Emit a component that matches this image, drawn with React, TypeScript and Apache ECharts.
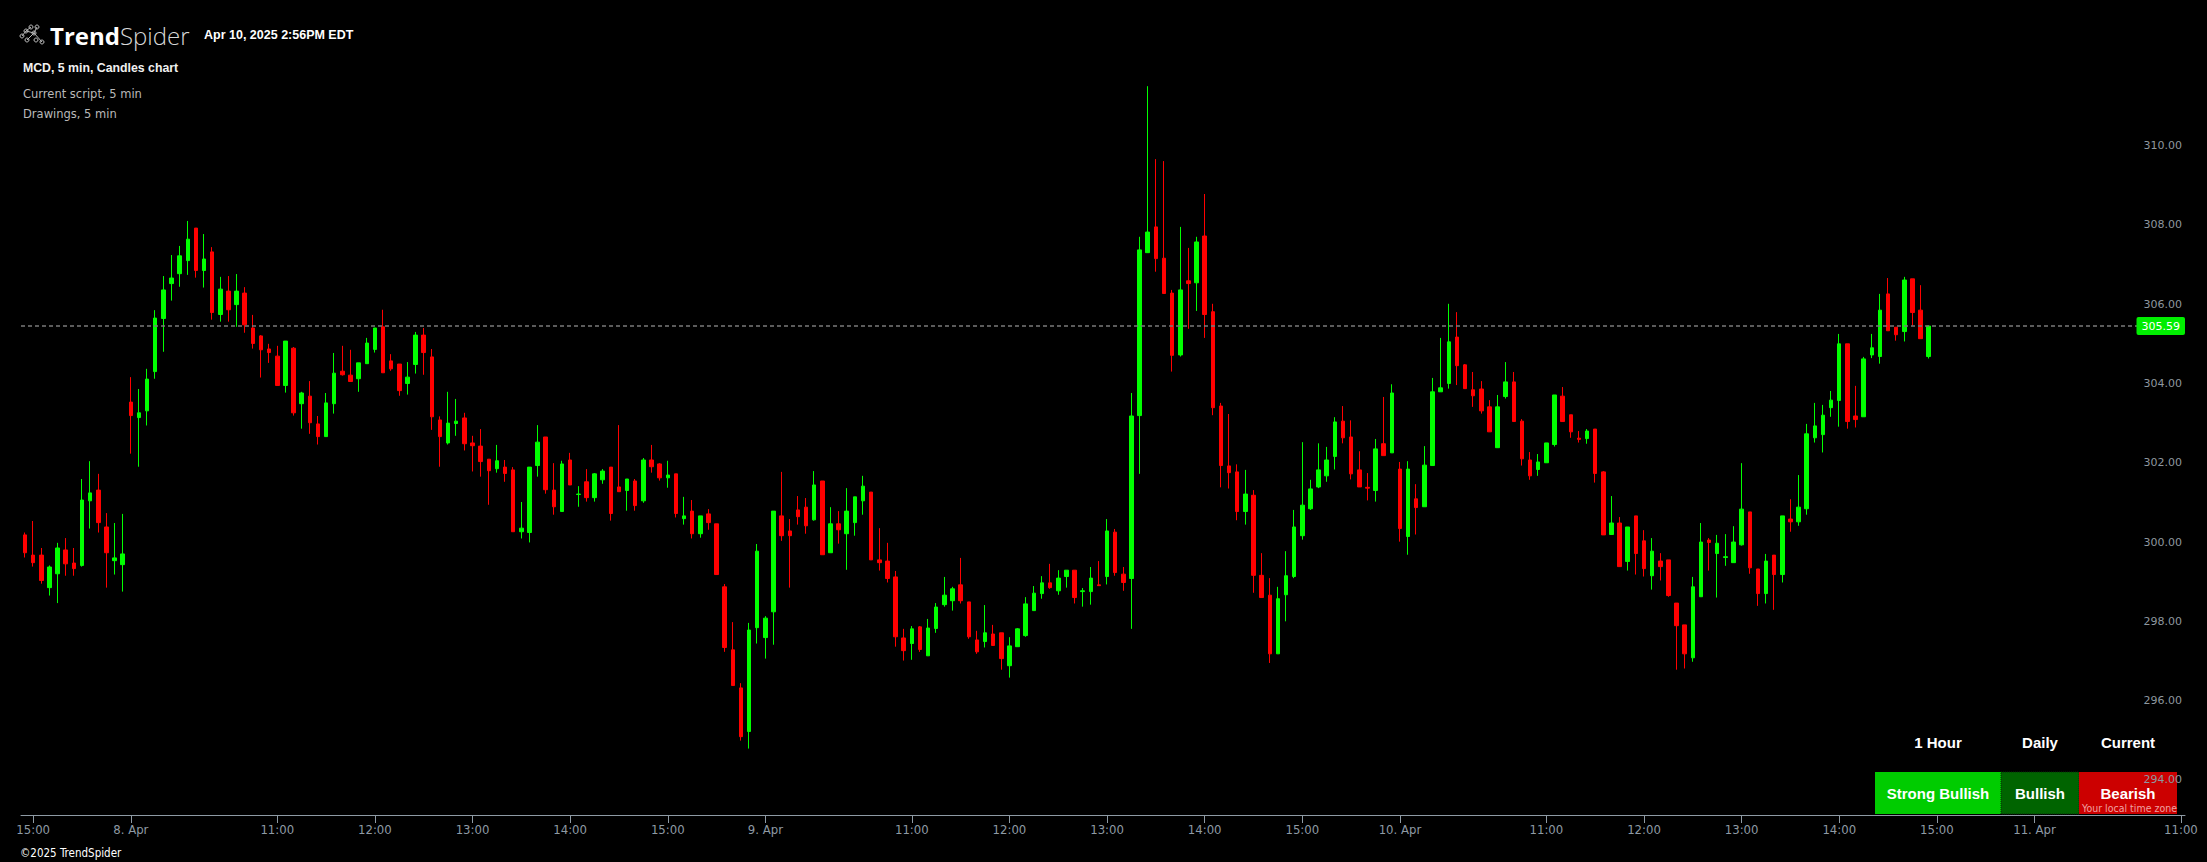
import React, { useEffect, useRef } from "react";
import * as echarts from "echarts";

// ---- Data (MCD, 5 min candles, 7 Apr 14:55 -> 10 Apr 14:55) ----
const opens = [
  300.32, 299.81, 299.81, 298.99, 299.34, 299.94, 299.61, 299.55, 301.18, 301.45, 300.52, 299.67, 299.57,
  303.67, 303.28, 303.45, 304.44, 305.78, 306.66, 306.91, 307.24, 308.06, 306.99, 307.46, 305.88, 306.47, 306.13, 306.42, 305.54, 305.34, 305.01, 304.83, 304.09, 305.03, 303.63, 303.82, 303.12, 302.8, 303.63, 304.45,
  304.35, 304.26, 304.64, 305.0, 305.57, 304.71, 304.63, 304.14, 304.62, 305.36, 304.81, 303.22, 302.64, 303.13, 303.27, 302.64, 302.56, 302.23, 301.99, 302.03, 301.96, 300.4,
  300.38, 302.07, 302.79, 301.45, 300.91, 302.21, 301.34, 301.66, 301.26, 301.71, 302.03, 301.53, 301.44, 301.68, 301.18, 302.21, 302.11, 301.76, 301.86, 300.73, 300.92, 300.35, 300.85, 300.6, 299.01, 297.42, 296.46, 295.36, 297.98,
  297.73, 298.38, 300.8, 300.42, 300.95, 301.02, 300.7, 301.68, 299.87, 300.6, 300.35, 300.63, 301.18, 301.4, 299.69, 299.66, 299.26, 297.72, 297.58, 298.0, 297.27, 297.96, 298.56, 298.66, 299.06, 298.63, 297.67, 297.63, 297.82, 297.85, 297.02, 297.5, 297.78, 298.41, 298.84, 299.11, 298.91, 299.27, 299.43, 298.89, 298.89, 299.06, 299.27, 300.39, 299.33,
  299.22, 303.33, 307.44, 308.09, 307.3, 306.42, 304.86, 306.73, 306.68, 307.86, 305.95, 303.57, 302.06, 301.91, 300.91, 301.32, 299.3, 298.8, 297.32, 298.81, 299.27, 300.3, 300.98, 301.53, 301.81, 302.3, 303.19, 302.79, 301.96, 301.52, 301.44, 302.62, 302.39,
  301.98, 300.28, 301.23, 301.03, 302.07, 303.93, 304.14, 305.31, 304.61, 303.98, 304.0, 303.55, 302.52, 303.81, 304.18, 303.19, 302.21, 301.97, 302.14, 302.6, 303.82, 303.35, 302.76, 302.75, 302.99, 301.91, 300.33, 300.62, 299.65, 300.8, 300.17, 299.29, 299.66, 299.69, 298.6, 298.05, 297.22, 298.76, 300.19, 299.85,
  299.75, 299.62, 300.07, 300.9, 299.46, 298.84, 299.81, 299.32, 300.72, 300.65, 300.98, 302.77, 302.85, 303.53, 303.71, 305.14, 303.32, 303.3, 304.86, 304.82, 306.4, 305.56, 305.45, 306.78, 305.99, 304.82,
];
const closes = [
  299.87, 299.62, 299.17, 299.51, 299.99, 299.59, 299.47, 301.2, 301.38, 300.63, 299.87, 299.74, 299.84,
  303.33, 303.4, 304.25, 305.79, 306.5, 306.8, 307.36, 307.78, 306.99, 307.28, 305.93, 306.52, 306.0, 306.47, 305.62, 305.15, 304.99, 304.92, 304.09, 305.21, 303.4, 303.9, 303.15, 302.8, 303.65, 304.4, 304.36,
  304.19, 304.66, 305.16, 305.54, 304.41, 304.51, 303.96, 304.3, 305.36, 304.92, 303.3, 302.8, 303.14, 303.19, 302.62, 302.57, 302.17, 301.94, 302.19, 301.87, 300.4, 300.49,
  302.03, 302.66, 301.46, 301.03, 302.11, 301.58, 301.35, 301.26, 301.86, 301.93, 300.86, 301.41, 301.73, 301.06, 302.21, 302.04, 301.76, 301.83, 300.86, 300.8, 300.35, 300.8, 300.63, 299.32, 297.48, 296.52, 295.23, 297.92, 299.91,
  298.22, 300.92, 300.3, 300.3, 300.78, 300.55, 301.58, 299.82, 300.6, 300.45, 300.92, 301.28, 301.55, 299.69, 299.62, 299.22, 297.75, 297.4, 297.95, 297.43, 297.97, 298.5, 298.8, 298.96, 298.66, 297.75, 297.37, 297.85, 297.53, 297.2, 297.52, 297.95, 298.58, 298.85, 299.11, 298.99, 299.23, 299.43, 298.74, 298.91, 299.23, 299.04, 300.42, 299.37, 299.12,
  303.32, 307.51, 307.96, 307.29, 306.41, 304.85, 306.5, 306.66, 307.71, 305.88, 303.53, 302.07, 301.89, 300.91, 301.35, 299.3, 298.74, 297.32, 298.71, 299.29, 300.52, 301.07, 301.48, 301.96, 302.21, 303.17, 302.77, 301.86, 301.53, 301.5, 302.49, 302.32, 303.9,
  300.48, 301.98, 301.01, 302.08, 303.93, 304.03, 305.19, 304.59, 304.01, 303.83, 303.45, 302.92, 303.55, 304.18, 303.18, 302.24, 301.81, 302.16, 302.64, 303.85, 303.18, 302.92, 302.73, 302.94, 301.87, 300.32, 300.62, 299.52, 300.52, 299.85, 299.47, 299.91, 299.52, 298.79, 298.03, 297.32, 299.01, 300.14, 300.13, 300.11,
  299.77, 300.14, 300.97, 299.49, 298.84, 299.66, 299.32, 300.8, 300.65, 301.02, 302.87, 303.07, 303.34, 303.72, 305.14, 303.18, 303.23, 304.76, 305.04, 305.99, 305.47, 305.37, 306.75, 305.93, 305.27, 305.59,
];
const lows = [
  299.75, 299.52, 299.09, 298.79, 298.6, 299.29, 299.29, 299.52, 300.48, 300.38, 298.99, 299.32, 298.89,
  302.37, 302.04, 303.08, 304.26, 304.94, 306.23, 306.58, 306.88, 306.81, 306.56, 305.75, 305.7, 305.7, 305.57, 305.42, 305.02, 304.29, 304.66, 304.09, 303.91, 303.33, 303.0, 302.87, 302.6, 302.8, 303.38, 304.34,
  304.19, 303.93, 304.64, 304.92, 304.41, 304.46, 303.83, 303.86, 304.39, 304.36, 302.97, 302.04, 302.6, 302.82, 302.45, 301.92, 301.79, 301.08, 301.89, 301.66, 300.4, 300.23,
  300.13, 301.79, 301.36, 300.83, 300.91, 301.58, 301.03, 301.16, 301.16, 301.61, 300.68, 301.41, 300.93, 300.93, 301.13, 301.89, 301.69, 301.51, 300.76, 300.58, 300.23, 300.25, 300.45, 299.32, 297.37, 296.52, 295.13, 294.93, 297.58,
  297.2, 297.55, 300.17, 298.99, 300.58, 300.35, 300.68, 299.82, 299.87, 300.1, 299.44, 300.3, 300.83, 299.69, 299.42, 299.12, 297.5, 297.15, 297.17, 297.37, 297.27, 297.85, 298.51, 298.41, 298.59, 297.7, 297.32, 297.48, 297.53, 296.92, 296.72, 297.5, 297.75, 298.41, 298.71, 298.96, 298.81, 298.99, 298.59, 298.51, 298.56, 299.04, 299.07, 299.29, 298.91,
  297.95, 301.86, 307.44, 306.96, 306.41, 304.44, 304.82, 305.52, 305.97, 305.29, 303.34, 301.52, 301.49, 300.69, 300.58, 298.86, 298.74, 297.09, 297.32, 298.14, 299.23, 300.2, 300.95, 301.5, 301.66, 301.97, 302.63, 301.72, 301.53, 301.19, 301.16, 302.32, 302.39,
  300.15, 299.82, 300.33, 301.03, 302.07, 303.93, 304.01, 304.1, 304.01, 303.55, 303.38, 302.92, 302.52, 303.76, 303.18, 302.07, 301.71, 301.81, 302.14, 302.55, 303.18, 302.77, 302.65, 302.62, 301.64, 300.32, 300.33, 299.52, 299.42, 299.32, 299.27, 298.94, 299.17, 298.76, 296.92, 296.95, 297.12, 298.76, 299.42, 298.74,
  299.54, 299.62, 300.05, 299.34, 298.53, 298.59, 298.43, 299.12, 300.4, 300.55, 300.83, 302.65, 302.4, 303.3, 303.05, 303.0, 303.03, 303.3, 304.78, 304.64, 305.47, 305.22, 305.2, 305.6, 305.27, 304.77,
];
const highs = [
  300.38, 300.67, 299.99, 299.55, 300.12, 300.24, 299.99, 301.73, 302.18, 301.86, 300.87, 300.62, 300.85,
  304.3, 304.0, 304.51, 305.99, 306.85, 307.38, 307.61, 308.24, 308.06, 307.91, 307.58, 306.83, 306.85, 306.9, 306.57, 305.87, 305.36, 305.14, 305.09, 305.21, 305.06, 303.93, 304.2, 303.32, 303.9, 304.91, 305.09,
  304.99, 304.66, 305.29, 305.54, 306.0, 304.88, 304.63, 304.68, 305.44, 305.54, 305.01, 303.31, 303.93, 303.75, 303.4, 302.82, 302.99, 302.23, 302.59, 302.21, 302.03, 301.15,
  302.03, 303.09, 302.79, 302.13, 302.19, 302.39, 301.55, 301.98, 301.88, 301.98, 302.03, 303.09, 301.73, 301.73, 302.26, 302.59, 302.13, 302.19, 301.86, 301.28, 301.2, 300.8, 300.97, 300.6, 299.08, 298.12, 296.58, 298.1, 300.09,
  298.27, 300.92, 301.91, 300.72, 301.3, 301.25, 301.93, 301.68, 301.02, 300.92, 301.5, 301.28, 301.81, 301.4, 300.49, 300.12, 299.41, 297.95, 298.02, 298.02, 298.2, 298.6, 299.26, 299.01, 299.74, 298.63, 297.9, 298.55, 298.05, 297.85, 297.74, 297.97, 298.75, 299.03, 299.28, 299.59, 299.43, 299.43, 299.43, 298.98, 299.51, 299.66, 300.72, 300.47, 299.51,
  303.9, 307.84, 311.64, 309.8, 309.75, 306.5, 308.09, 307.56, 307.84, 308.92, 306.15, 303.65, 303.37, 302.1, 301.96, 301.45, 299.86, 299.23, 299.01, 299.91, 300.95, 302.66, 301.71, 302.63, 302.54, 303.29, 303.57, 303.21, 302.43, 301.88, 302.74, 303.8, 304.12,
  302.16, 302.18, 301.6, 302.56, 304.28, 305.29, 306.15, 305.94, 304.63, 304.43, 304.2, 303.72, 303.85, 304.68, 304.43, 303.24, 302.41, 302.36, 302.64, 303.85, 304.05, 303.35, 302.94, 302.99, 302.99, 301.93, 301.3, 300.77, 300.52, 300.8, 300.44, 300.24, 299.86, 299.69, 298.6, 298.05, 299.26, 300.62, 300.24, 300.32,
  300.34, 300.54, 302.13, 300.9, 299.46, 299.84, 299.81, 300.8, 301.22, 301.83, 303.12, 303.65, 303.6, 303.95, 305.39, 305.14, 304.08, 304.81, 305.39, 306.4, 306.8, 305.56, 306.83, 306.78, 306.62, 305.59,
];

// trading sessions shown on the time axis (5-minute slots)
const sessionDays = ["7. Apr", "8. Apr", "9. Apr", "10. Apr", "11. Apr"];
const sessionStarts = ["14:55", "09:30", "09:30", "09:30", "09:30"];
const sessionEnds = ["15:55", "15:55", "15:55", "15:55", "11:00"];
const hourTickLabels = ["11:00", "12:00", "13:00", "14:00", "15:00"];

const yTickValues = [294, 296, 298, 300, 302, 304, 306, 308, 310];
const lastPrice = 305.59;

const signalHeaders = ["1 Hour", "Daily", "Current"];
const signalValues = ["Strong Bullish", "Bullish", "Bearish"];
const signalColors = ["#00cc00", "#006400", "#cc0000"];

const headerTitle = "MCD, 5 min, Candles chart";
const headerLines = ["Current script, 5 min", "Drawings, 5 min"];
const headerDate = "Apr 10, 2025 2:56PM EDT";

// ---- helpers ----
const pad = (n: number) => (n < 10 ? "0" + n : "" + n);
const toMin = (s: string) => {
  const [h, m] = s.split(":").map(Number);
  return h * 60 + m;
};

const categories: string[] = [];
const tickText: Record<number, string> = {};
sessionDays.forEach((day, d) => {
  for (let t = toMin(sessionStarts[d]); t <= toMin(sessionEnds[d]); t += 5) {
    const hhmm = pad(Math.floor(t / 60)) + ":" + pad(t % 60);
    const idx = categories.length;
    categories.push(day + " " + hhmm);
    if (hhmm === "09:30") tickText[idx] = day;
    else if (hourTickLabels.includes(hhmm)) tickText[idx] = hhmm;
  }
});

const candleData = opens.map((o, i) => [o, closes[i], lows[i], highs[i]]);

const NARROW = "'Liberation Sans Narrow', 'DejaVu Sans Condensed', 'Roboto Condensed', 'Liberation Sans', sans-serif";
const SANS = "'Liberation Sans', Arial, sans-serif";
const VERD = "'DejaVu Sans', Verdana, sans-serif";

export default function App() {
  const ref = useRef<HTMLDivElement>(null);

  useEffect(() => {
    document.body.style.margin = "0";
    document.body.style.background = "#000";
    document.body.style.overflow = "hidden";
    const chart = echarts.init(ref.current!, undefined, { renderer: "svg" });

    const cellX = [1875, 2001, 2079];
    const cellW = [126, 78, 98];
    const cellY = 772;
    const cellH = 42;

    const logoDots: number[][] = [
      [22, 36], [26, 31], [31, 27], [37, 27], [34, 33], [27, 40], [36, 40], [42, 42],
    ];

    const graphic: any[] = [
      // logo icon
      ...logoDots.map((p) => ({
        type: "circle",
        shape: { cx: p[0], cy: p[1], r: 2 },
        style: { fill: "none", stroke: "#b8b8b8", lineWidth: 1 },
      })),
      {
        type: "polyline",
        shape: { points: [[22, 36], [26, 31], [31, 27]] },
        style: { fill: "none", stroke: "#b8b8b8", lineWidth: 1 },
      },
      {
        type: "polyline",
        shape: { points: [[26, 31], [34, 33], [42, 42]] },
        style: { fill: "none", stroke: "#b8b8b8", lineWidth: 1 },
      },
      {
        type: "polyline",
        shape: { points: [[27, 40], [34, 33], [37, 27]] },
        style: { fill: "none", stroke: "#b8b8b8", lineWidth: 1 },
      },
      {
        type: "text",
        x: 50,
        y: 35,
        style: {
          text: "{a|Trend}{b|Spider}",
          verticalAlign: "middle",
          rich: {
            a: { fontFamily: "'Open Sans', Lato, sans-serif", fontWeight: 700, fontSize: 24, fill: "#ffffff" },
            b: { fontFamily: "'Open Sans', Lato, sans-serif", fontWeight: 300, fontSize: 24, fill: "#d8d8d8" },
          },
        },
      },
      {
        type: "text",
        x: 204,
        y: 35,
        style: { text: headerDate, fontFamily: SANS, fontWeight: "bold", fontSize: 12.5, fill: "#ffffff", verticalAlign: "middle" },
      },
      {
        type: "text",
        x: 23,
        y: 68,
        style: { text: headerTitle, fontFamily: SANS, fontWeight: "bold", fontSize: 12.3, fill: "#f0f0f0", verticalAlign: "middle" },
      },
      ...headerLines.map((t, i) => ({
        type: "text",
        x: 23,
        y: 94 + i * 20,
        style: { text: t, fontFamily: VERD, fontSize: 11.5, fill: "#b9b9b9", verticalAlign: "middle" },
      })),
      {
        type: "text",
        x: 20,
        y: 853,
        style: { text: "©2025 TrendSpider", fontFamily: NARROW, fontSize: 11.5, fill: "#ffffff", verticalAlign: "middle" },
      },
      // signal table
      ...signalValues.map((v, i) => ({
        type: "rect",
        shape: { x: cellX[i], y: cellY, width: cellW[i], height: cellH },
        style: {
          fill: signalColors[i],
          stroke: i === 1 ? "#0a2a0a" : null,
          lineWidth: 1,
          lineDash: i === 1 ? [1, 1] : null,
        },
        z: -5,
      })),
      ...signalValues.map((v, i) => ({
        type: "text",
        x: cellX[i] + cellW[i] / 2,
        y: cellY + 21,
        style: {
          text: v,
          fontFamily: SANS,
          fontWeight: "bold",
          fontSize: 15,
          fill: "#ffffff",
          align: "center",
          verticalAlign: "middle",
        },
        z: -4,
      })),
      ...signalHeaders.map((h, i) => ({
        type: "text",
        x: [1938, 2040, 2128][i],
        y: 742,
        style: {
          text: h,
          fontFamily: SANS,
          fontWeight: "bold",
          fontSize: 15,
          fill: "#ffffff",
          align: "center",
          verticalAlign: "middle",
        },
      })),
      {
        type: "text",
        x: 2177,
        y: 808,
        style: {
          text: "Your local time zone",
          fontFamily: NARROW,
          fontSize: 10.5,
          fill: "#f0a0a0",
          align: "right",
          verticalAlign: "middle",
        },
        z: -3,
      },
    ];

    const showTick = (i: number) => tickText[i] !== undefined;

    chart.setOption({
      animation: false,
      backgroundColor: "#000000",
      grid: { left: 21, right: 22, top: 40, bottom: 47, containLabel: false },
      xAxis: {
        type: "category",
        data: categories,
        boundaryGap: true,
        axisLine: { show: true, lineStyle: { color: "#8e9aa4", width: 1 } },
        axisTick: {
          show: true,
          alignWithLabel: true,
          length: 8,
          interval: (i: number) => showTick(i),
          lineStyle: { color: "#8e9aa4" },
        },
        axisLabel: {
          interval: (i: number) => showTick(i),
          formatter: (_v: string, i: number) => tickText[i] ?? "",
          color: "#8e9aa4",
          fontFamily: NARROW,
          fontSize: 13,
          margin: 8,
        },
        splitLine: { show: false },
      },
      yAxis: {
        type: "value",
        position: "right",
        min: 293.254,
        max: 312.805,
        z: 10,
        axisLine: { show: false },
        axisTick: { show: false },
        splitLine: { show: false },
        axisLabel: {
          inside: true,
          customValues: yTickValues,
          formatter: (v: number) => v.toFixed(2),
          color: "#8e979f",
          fontFamily: VERD,
          fontSize: 11,
          verticalAlign: "bottom",
          margin: 3,
        },
      },
      series: [
        {
          type: "candlestick",
          data: candleData,
          barWidth: 4,
          itemStyle: {
            color: "#00ff00",
            color0: "#ff0000",
            borderColor: "#00ff00",
            borderColor0: "#ff0000",
            borderWidth: 1,
          },
          markLine: {
            silent: true,
            symbol: ["none", "none"],
            lineStyle: { color: "#7a7a7a", type: [4, 3], width: 1.5 },
            label: {
              show: true,
              position: "insideEnd",
              distance: 0,
              formatter: () => lastPrice.toFixed(2),
              backgroundColor: "#00ee00",
              color: "#ffffff",
              fontFamily: VERD,
              fontSize: 11,
              padding: [4, 5, 3, 5],
              borderRadius: 2,
            },
            data: [{ yAxis: lastPrice }],
          },
        },
      ],
      graphic,
    });

    return () => chart.dispose();
  }, []);

  return (
    <div
      ref={ref}
      style={{ position: "fixed", left: 0, top: 0, width: 2207, height: 862, background: "#000" }}
    />
  );
}
